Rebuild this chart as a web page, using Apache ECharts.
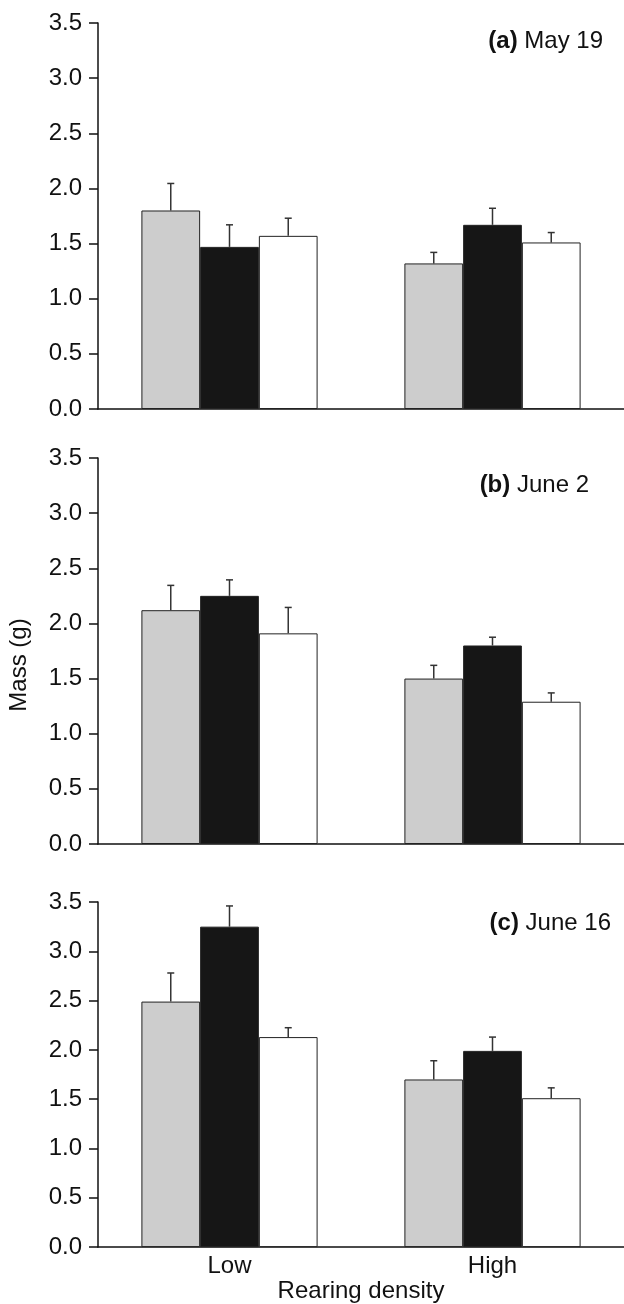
<!DOCTYPE html>
<html>
<head>
<meta charset="utf-8">
<script src="https://cdn.jsdelivr.net/npm/echarts@6/dist/echarts.min.js"></script>
<style>
  html, body { margin: 0; padding: 0; background: #fff; }
  #chart { width: 624px; height: 1304px; }
</style>
</head>
<body>
<div id="chart"></div>
<script>
// categories on the x axis
var categories = ['Low', 'High'];

// panel (a) May 19 - means and SE
var mayGray = [1.80, 1.32];
var mayBlack = [1.47, 1.67];
var mayWhite = [1.57, 1.51];
var maySeGray = [0.245, 0.10];
var maySeBlack = [0.20, 0.15];
var maySeWhite = [0.16, 0.09];

// panel (b) June 2
var jun2Gray = [2.12, 1.50];
var jun2Black = [2.25, 1.80];
var jun2White = [1.91, 1.29];
var jun2SeGray = [0.225, 0.12];
var jun2SeBlack = [0.145, 0.075];
var jun2SeWhite = [0.235, 0.08];

// panel (c) June 16
var jun16Gray = [2.49, 1.70];
var jun16Black = [3.25, 1.99];
var jun16White = [2.13, 1.51];
var jun16SeGray = [0.29, 0.19];
var jun16SeBlack = [0.21, 0.14];
var jun16SeWhite = [0.095, 0.105];

var panelTags = ['(a)', '(b)', '(c)'];
var panelDates = ['May 19', 'June 2', 'June 16'];

var FONT = '"Liberation Sans", Arial, Helvetica, sans-serif';
var FS = 24;
var CAT_GAP = 0.33;

var panels = [
    { means: [mayGray, mayBlack, mayWhite], se: [maySeGray, maySeBlack, maySeWhite],
      top: 23, height: 386, tagX: 603, tagY: 43 },
    { means: [jun2Gray, jun2Black, jun2White], se: [jun2SeGray, jun2SeBlack, jun2SeWhite],
      top: 458, height: 386, tagX: 589, tagY: 487 },
    { means: [jun16Gray, jun16Black, jun16White], se: [jun16SeGray, jun16SeBlack, jun16SeWhite],
      top: 902, height: 349, tagX: 611, tagY: 925 }
];

var barColors = ['#cdcdcd', '#161616', '#ffffff'];

function renderErr(params, api) {
    var cat = api.value(0);
    var mean = api.value(1);
    var se = api.value(2);
    var grp = api.value(3);
    var band = api.size([1, 0])[0];
    var barW = band * (1 - CAT_GAP) / 3;
    var base = api.coord([cat, mean]);
    var topPt = api.coord([cat, mean + se]);
    var x = base[0] + (grp - 1) * barW;
    var style = { stroke: '#333', lineWidth: 1.5 };
    return {
        type: 'group',
        children: [
            { type: 'line', shape: { x1: x, y1: base[1], x2: x, y2: topPt[1] }, style: style },
            { type: 'line', shape: { x1: x - 3.5, y1: topPt[1], x2: x + 3.5, y2: topPt[1] }, style: style }
        ]
    };
}

var grids = [], xAxes = [], yAxes = [], series = [], graphics = [];

panels.forEach(function(p, i) {
    grids.push({ left: 98, right: 0, top: p.top, height: p.height });
    xAxes.push({
        type: 'category',
        gridIndex: i,
        data: categories,
        axisLine: { lineStyle: { color: '#111', width: 1.5 } },
        axisTick: { show: false },
        axisLabel: { show: i === 2, color: '#111', fontSize: FS, fontFamily: FONT, margin: 7 },
        name: i === 2 ? 'Rearing density' : '',
        nameLocation: 'middle',
        nameGap: 30,
        nameTextStyle: { color: '#111', fontSize: FS, fontFamily: FONT }
    });
    yAxes.push({
        type: 'value',
        gridIndex: i,
        min: 0,
        max: 3.5,
        interval: 0.5,
        splitLine: { show: false },
        axisLine: { show: true, lineStyle: { color: '#111', width: 1.5 } },
        axisTick: { show: true, length: 9, lineStyle: { color: '#111', width: 1.5 } },
        axisLabel: {
            color: '#111', fontSize: FS, fontFamily: FONT, margin: 16,
            formatter: function(v) { return v.toFixed(1); }
        }
    });
    for (var g = 0; g < 3; g++) {
        series.push({
            type: 'bar',
            xAxisIndex: i,
            yAxisIndex: i,
            data: p.means[g],
            barGap: '0%',
            barCategoryGap: (CAT_GAP * 100) + '%',
            itemStyle: { color: barColors[g], borderColor: '#222', borderWidth: 1 },
            z: 2
        });
    }
    var errData = [];
    for (var g2 = 0; g2 < 3; g2++) {
        for (var c = 0; c < categories.length; c++) {
            errData.push([c, p.means[g2][c], p.se[g2][c], g2]);
        }
    }
    series.push({
        type: 'custom',
        xAxisIndex: i,
        yAxisIndex: i,
        renderItem: renderErr,
        data: errData,
        z: 1
    });
    graphics.push({
        type: 'text',
        right: 624 - p.tagX,
        top: p.tagY - 14,
        style: {
            text: '{b|' + panelTags[i] + '} ' + panelDates[i],
            fontSize: FS,
            fontFamily: FONT,
            fill: '#111',
            rich: { b: { fontWeight: 'bold', fontSize: FS, fontFamily: FONT } }
        }
    });
});

graphics.push({
    type: 'text',
    x: 19,
    y: 665,
    rotation: Math.PI / 2,
    style: {
        text: 'Mass (g)',
        fontSize: FS,
        fontFamily: FONT,
        fill: '#111',
        textAlign: 'center',
        textVerticalAlign: 'middle'
    }
});

var chart = echarts.init(document.getElementById('chart'), null, { renderer: 'canvas' });
chart.setOption({
    animation: false,
    backgroundColor: '#fff',
    grid: grids,
    xAxis: xAxes,
    yAxis: yAxes,
    series: series,
    graphic: graphics
});
</script>
</body>
</html>
